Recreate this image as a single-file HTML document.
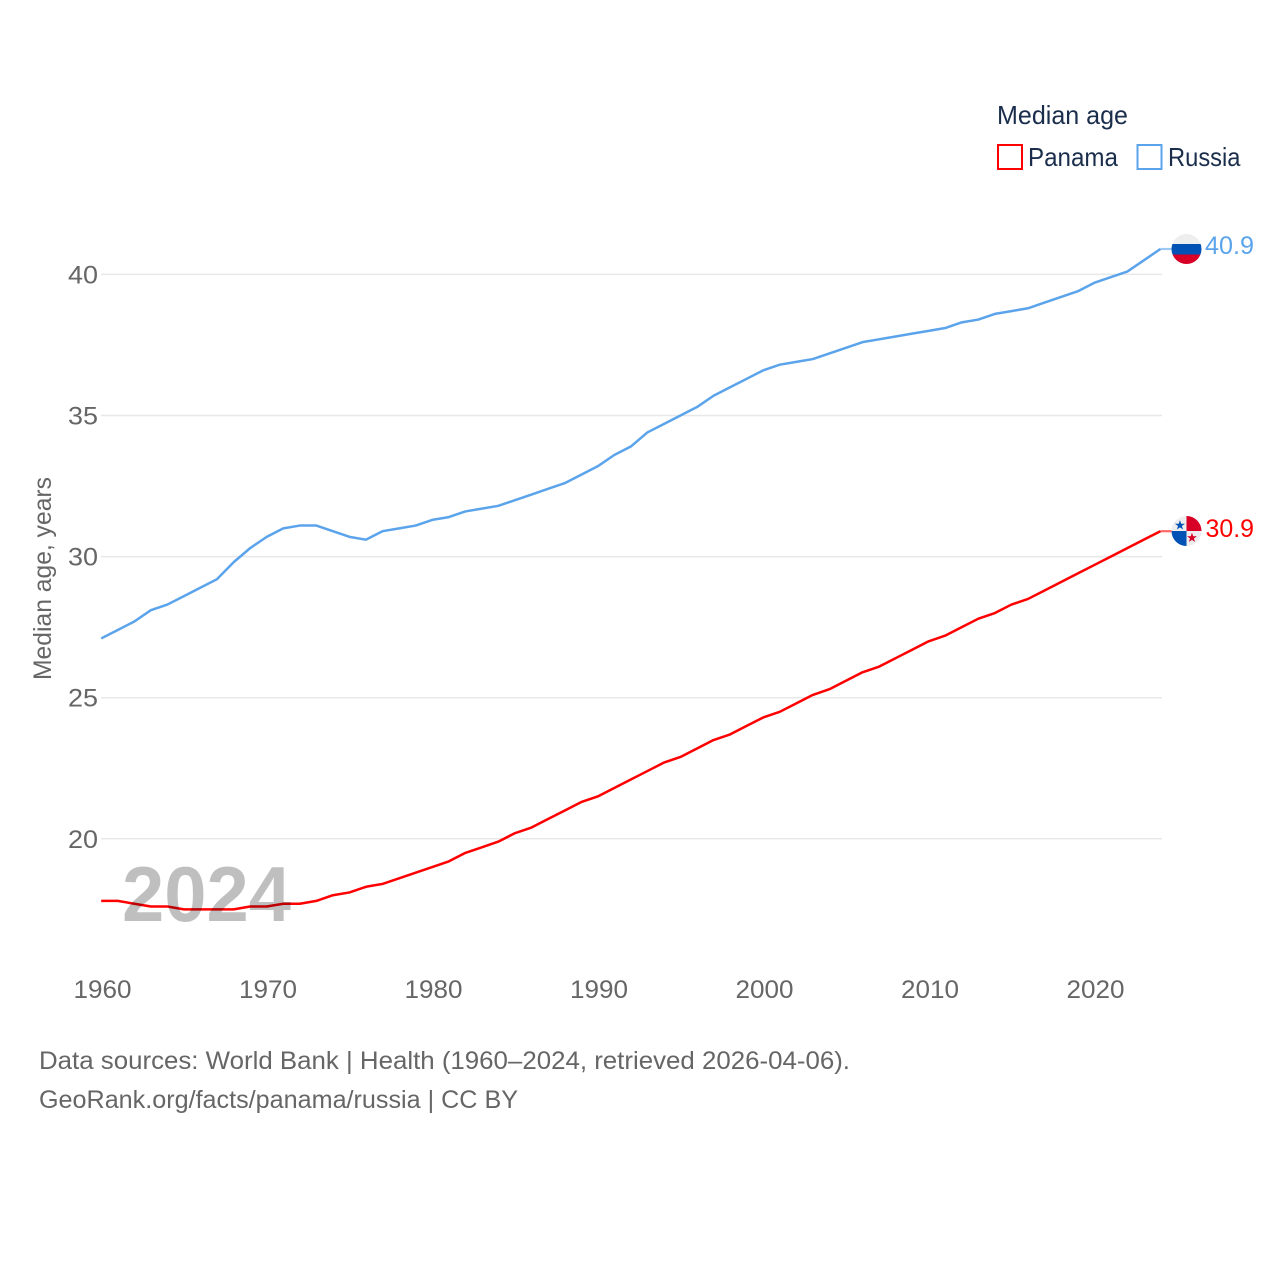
<!DOCTYPE html>
<html>
<head>
<meta charset="utf-8">
<title>Median age: Panama and Russia</title>
<style>
html,body{margin:0;padding:0;background:#fff;width:1280px;height:1280px;overflow:hidden}
svg{display:block}
text{font-family:"Liberation Sans",sans-serif}
</style>
</head>
<body>
<svg id="chart" width="1280" height="1280" viewBox="0 0 1280 1280" xmlns="http://www.w3.org/2000/svg">
<defs>
<clipPath id="flag-clip-ru"><circle cx="1186.500" cy="249" r="15"/></clipPath>
<clipPath id="flag-clip-pa"><circle cx="1186.500" cy="531" r="15"/></clipPath>
</defs>
<rect width="1280" height="1280" fill="#fff"/>
<g id="grid"></g>
<g id="yticks"></g>
<g id="xticks"></g>
<text transform="translate(51,680) rotate(-90)" font-size="25" fill="#666" textLength="203" lengthAdjust="spacingAndGlyphs">Median age, years</text>
<g id="series"></g>
<text x="122" y="921" font-size="78" font-weight="bold" fill="#000" fill-opacity="0.25" textLength="169" lengthAdjust="spacingAndGlyphs">2024</text>

<g clip-path="url(#flag-clip-ru)">
<rect x="1171" y="234" width="31" height="10" fill="#eeeeee"/>
<rect x="1171" y="244" width="31" height="10.5" fill="#0052b4"/>
<rect x="1171" y="254.500" width="31" height="10" fill="#d80027"/>
</g>
<text x="1205" y="254" font-size="25" fill="#5ba4ec" textLength="49" lengthAdjust="spacingAndGlyphs">40.9</text>

<g clip-path="url(#flag-clip-pa)">
<rect x="1171" y="516" width="31" height="30" fill="#eeeeee"/>
<rect x="1186.500" y="516" width="15" height="15" fill="#d80027"/>
<rect x="1171.500" y="531" width="15" height="15" fill="#0052b4"/>
<text x="1180" y="529.500" font-size="13" fill="#0052b4" text-anchor="middle" style="font-family:'DejaVu Sans',sans-serif">★</text>
<text x="1192" y="542" font-size="13" fill="#d80027" text-anchor="middle" style="font-family:'DejaVu Sans',sans-serif">★</text>
</g>
<text x="1205.500" y="537" font-size="25" fill="#ff0000" textLength="48.500" lengthAdjust="spacingAndGlyphs">30.9</text>

<g>
<text x="997" y="124" font-size="26" fill="#1a2e4c" textLength="131" lengthAdjust="spacingAndGlyphs">Median age</text>
<g>
<rect x="998" y="145" width="24" height="24" fill="none" stroke="#ff0000" stroke-width="2"/>
<text x="1028" y="166" font-size="26" fill="#1a2e4c" textLength="90" lengthAdjust="spacingAndGlyphs">Panama</text>
</g>
<g>
<rect x="1137.500" y="145" width="24" height="24" fill="none" stroke="#5ba4ec" stroke-width="2"/>
<text x="1168" y="166" font-size="26" fill="#1a2e4c" textLength="72.500" lengthAdjust="spacingAndGlyphs">Russia</text>
</g>
</g>

<text x="39" y="1069" font-size="25" fill="#666" textLength="811" lengthAdjust="spacingAndGlyphs">Data sources: World Bank | Health (1960–2024, retrieved 2026-04-06).</text>
<text x="39" y="1108" font-size="25" fill="#666" textLength="479" lengthAdjust="spacingAndGlyphs">GeoRank.org/facts/panama/russia | CC BY</text>
</svg>
<script>
const startYear = 1960;
const panamaValues = [17.8,17.8,17.7,17.6,17.6,17.5,17.5,17.5,17.5,17.6,17.6,17.7,17.7,17.8,18.0,18.1,18.3,18.4,18.6,18.8,19.0,19.2,19.5,19.7,19.9,20.2,20.4,20.7,21.0,21.3,21.5,21.8,22.1,22.4,22.7,22.9,23.2,23.5,23.7,24.0,24.3,24.5,24.8,25.1,25.3,25.6,25.9,26.1,26.4,26.7,27.0,27.2,27.5,27.8,28.0,28.3,28.5,28.8,29.1,29.4,29.7,30.0,30.3,30.6,30.9];
const russiaValues = [27.1,27.4,27.7,28.1,28.3,28.6,28.9,29.2,29.8,30.3,30.7,31.0,31.1,31.1,30.9,30.7,30.6,30.9,31.0,31.1,31.3,31.4,31.6,31.7,31.8,32.0,32.2,32.4,32.6,32.9,33.2,33.6,33.9,34.4,34.7,35.0,35.3,35.7,36.0,36.3,36.6,36.8,36.9,37.0,37.2,37.4,37.6,37.7,37.8,37.9,38.0,38.1,38.3,38.4,38.6,38.7,38.8,39.0,39.2,39.4,39.7,39.9,40.1,40.5,40.9];
const yTickValues = [20,25,30,35,40];
const xTickValues = [1960,1970,1980,1990,2000,2010,2020];

const NS = 'http://www.w3.org/2000/svg';
function xScale(year){ return 101.2 + (year - 1960) * 16.55; }
function yScale(v){ return 838.8 - (v - 20) * 28.22; }
function make(tag, attrs, parent){
  const el = document.createElementNS(NS, tag);
  for (const k in attrs) el.setAttribute(k, attrs[k]);
  parent.appendChild(el);
  return el;
}
const grid = document.getElementById('grid');
const yticks = document.getElementById('yticks');
const xticks = document.getElementById('xticks');
const series = document.getElementById('series');

yTickValues.forEach(function(v){
  const line = make('line', {x1:101, x2:1162, y1:yScale(v), y2:yScale(v), stroke:'#e8e8e8', 'stroke-width':1.5}, grid);
  
  
  const t = make('text', {x:98, y:yScale(v)+9, 'font-size':25, fill:'#666', 'text-anchor':'end', textLength:30, lengthAdjust:'spacingAndGlyphs'}, yticks);
  t.textContent = v;
  
  
});
xTickValues.forEach(function(y){
  const t = make('text', {x:xScale(y)+1.3, y:998, 'font-size':25, fill:'#666', 'text-anchor':'middle', textLength:58, lengthAdjust:'spacingAndGlyphs'}, xticks);
  t.textContent = y;
  
  
});
function drawSeries(values, color, name){
  const pts = values.map(function(v, i){ return xScale(startYear + i).toFixed(2) + ',' + yScale(v).toFixed(2); });
  const lastY = yScale(values[values.length - 1]);
  const lastX = xScale(startYear + values.length - 1);
  const conn = make('line', {x1:lastX, x2:1172, y1:lastY, y2:lastY, stroke:color, 'stroke-width':2.2, 'stroke-opacity':0.6}, series);
  
  
  const line = make('polyline', {points:pts.join(' '), fill:'none', stroke:color, 'stroke-width':2.5, 'stroke-linejoin':'round'}, series);
  
  
}
drawSeries(russiaValues, '#5ba4ec', 'russia');
drawSeries(panamaValues, '#ff0000', 'panama');
</script>
</body>
</html>
